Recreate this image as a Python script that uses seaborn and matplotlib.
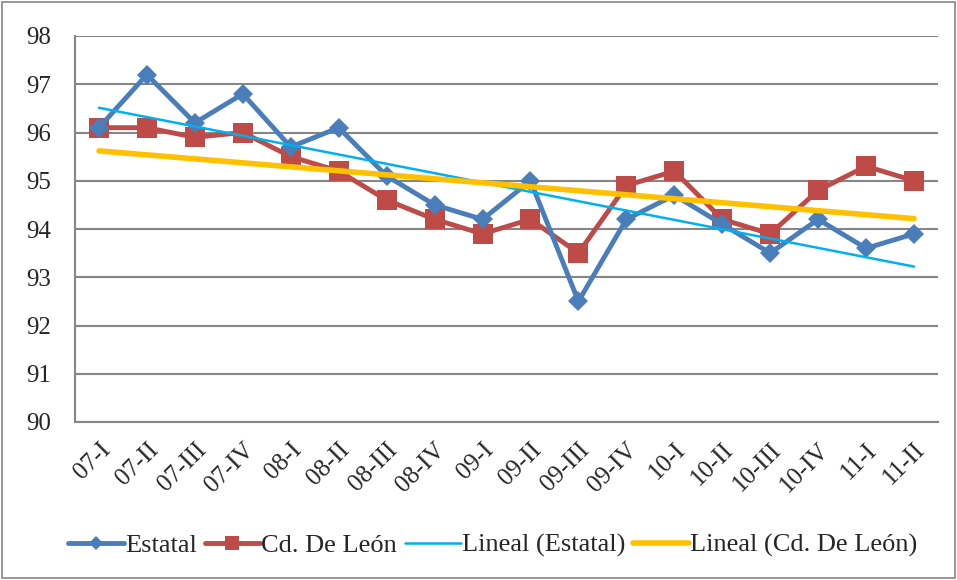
import numpy as np
import pandas as pd
import matplotlib
matplotlib.use('Agg')
import matplotlib.pyplot as plt
import seaborn as sns

periods = ['07-I', '07-II', '07-III', '07-IV', '08-I', '08-II', '08-III', '08-IV',
           '09-I', '09-II', '09-III', '09-IV', '10-I', '10-II', '10-III', '10-IV',
           '11-I', '11-II']
estatal = [96.1, 97.2, 96.2, 96.8, 95.7, 96.1, 95.1, 94.5, 94.2, 95.0,
           92.5, 94.2, 94.7, 94.1, 93.5, 94.2, 93.6, 93.9]
leon = [96.1, 96.1, 95.9, 96.0, 95.5, 95.2, 94.6, 94.2, 93.9, 94.2,
        93.5, 94.9, 95.2, 94.2, 93.9, 94.8, 95.3, 95.0]

sns.set_style('white')
plt.rcParams['font.family'] = 'serif'
plt.rcParams['font.serif'] = ['Liberation Serif']

x = np.arange(len(periods))
df = pd.DataFrame({'x': x, 'Estatal': estatal, 'Cd. De León': leon})

# linear trend lines, like Excel's "Lineal"
fit_e = np.polyval(np.polyfit(x, estatal, 1), x)
fit_l = np.polyval(np.polyfit(x, leon, 1), x)

fig = plt.figure(figsize=(9.57, 5.8), dpi=100)
ax = fig.add_axes([75/957, 1 - 422/580, (938-75)/957, (422-36)/580])

sns.lineplot(data=df, x='x', y='Estatal', ax=ax, color='#4a7ebb', lw=3.5,
             marker='D', markersize=10, markeredgewidth=0, label='Estatal', zorder=4)
sns.lineplot(data=df, x='x', y='Cd. De León', ax=ax, color='#be4b48', lw=3.5,
             marker='s', markersize=14, markeredgewidth=0, label='Cd. De León', zorder=3)
sns.lineplot(x=x, y=fit_e, ax=ax, color='#00b0f0', lw=1.8, label='Lineal (Estatal)', zorder=5)
sns.lineplot(x=x, y=fit_l, ax=ax, color='#ffc000', lw=4, label='Lineal (Cd. De León)', zorder=5)

ax.set_xlim(-0.5, len(periods) - 0.5)
ax.set_ylim(90, 98)
ax.set_yticks(range(90, 99))
ax.set_xticks(x)
ax.set_xticklabels(periods, rotation=45, ha='right', rotation_mode='anchor', fontsize=18)
ax.set_xticks(np.arange(-0.5, len(periods)), minor=True)
ax.tick_params(axis='x', which='major', length=0, pad=12)
ax.tick_params(axis='x', which='minor', length=6, color='#868686', width=1.2)
ax.tick_params(axis='y', length=6, color='#868686', width=1.2, labelsize=18, pad=11)
ax.set_xlabel('')
ax.set_ylabel('')
ax.grid(axis='y', color='#868686', lw=1.5)
ax.set_axisbelow(True)
for s in ['top', 'right']:
    ax.spines[s].set_visible(False)
for s in ['left', 'bottom']:
    ax.spines[s].set_color('#868686')
    ax.spines[s].set_linewidth(1.5)

ax.legend(loc='center', bbox_to_anchor=(0.484, -0.32), ncol=4, frameon=False,
          fontsize=19, handlelength=2.1, handletextpad=0.05, columnspacing=0.3,
          markerscale=0.75, borderpad=0)

fig.patches.append(plt.Rectangle((0.002, 0.003), 0.996, 0.994, transform=fig.transFigure,
                                 fill=False, edgecolor='#868686', lw=1.2))

fig.savefig('out.png', dpi=100)
